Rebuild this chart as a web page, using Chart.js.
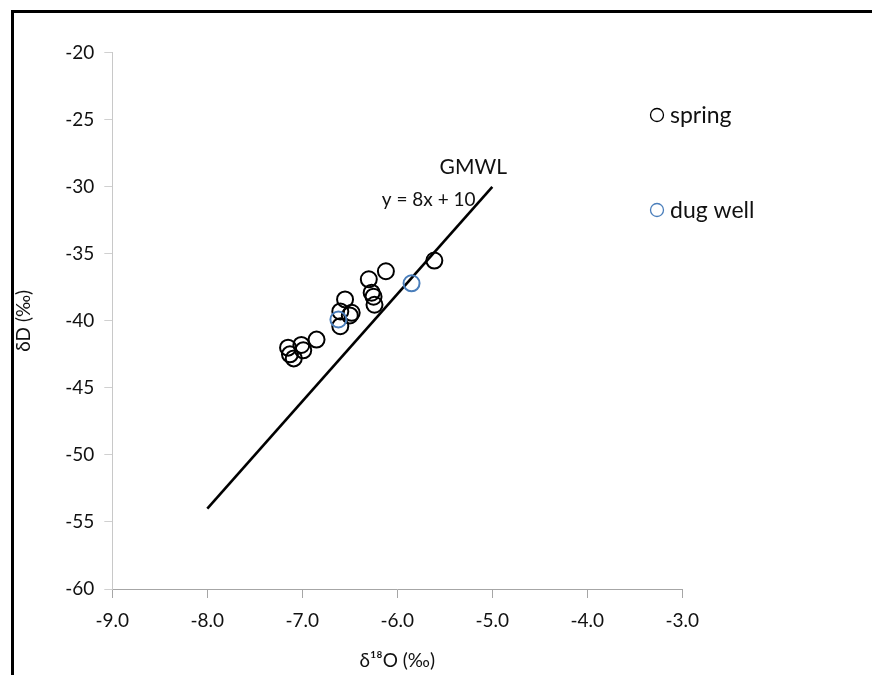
<!DOCTYPE html>
<html>
<head>
<meta charset="utf-8">
<script src="https://cdn.jsdelivr.net/npm/chart.js@4/dist/chart.umd.min.js"></script>
<style>
  html, body { margin: 0; padding: 0; background: #fff; }
  #wrap { position: relative; width: 872px; height: 675px; }
</style>
</head>
<body>
<div id="wrap"><canvas id="c" width="872" height="675"></canvas></div>
<script>
// ---- data ----
const springX = [-5.61, -6.12, -6.30, -6.27, -6.25, -6.24, -6.55, -6.48, -6.50, -6.60, -6.60, -6.85, -7.01, -6.99, -7.15, -7.13, -7.09];
const springY = [-35.5, -36.3, -36.9, -37.9, -38.2, -38.8, -38.4, -39.4, -39.6, -39.3, -40.4, -41.4, -41.8, -42.2, -42.0, -42.5, -42.8];
const dugX = [-5.85, -6.62];
const dugY = [-37.2, -39.9];
const gmwlX = [-8, -5];
const gmwlY = [-54, -30];
const xTicks = [-9, -8, -7, -6, -5, -4, -3];
const yTicks = [-60, -55, -50, -45, -40, -35, -30, -25, -20];
const seriesNames = ['spring', 'dug well'];
const lineName = 'GMWL';
const lineEquation = 'y = 8x + 10';

const toPts = (xs, ys) => xs.map((x, i) => ({ x: x, y: ys[i] }));

const FONT = 'Lato, "Open Sans", sans-serif';
const BLUE = '#4a7ebb';

const framePlugin = {
  id: 'frame',
  beforeDraw(chart) {
    const ctx = chart.ctx;
    ctx.save();
    ctx.fillStyle = '#fff';
    ctx.fillRect(0, 0, chart.width, chart.height);
    ctx.fillStyle = '#000';
    ctx.fillRect(11, 10, chart.width, 3);
    ctx.fillRect(11, 10, 3, chart.height);
    ctx.restore();
  }
};

const notesPlugin = {
  id: 'notes',
  afterDraw(chart) {
    const ctx = chart.ctx;
    const xs = chart.scales.x, ys = chart.scales.y;
    ctx.save();
    ctx.fillStyle = '#111';
    ctx.textAlign = 'center';
    ctx.textBaseline = 'middle';
    ctx.font = '21px ' + FONT;
    ctx.fillText(lineName, xs.getPixelForValue(-5.20), ys.getPixelForValue(-28.55));
    ctx.font = '19px ' + FONT;
    ctx.fillText(lineEquation, xs.getPixelForValue(-5.67), ys.getPixelForValue(-31.0));
    // legend
    const items = [
      { label: seriesNames[0], color: '#000', y: 115 },
      { label: seriesNames[1], color: BLUE, y: 210 }
    ];
    ctx.textAlign = 'left';
    ctx.font = '23px ' + FONT;
    items.forEach(it => {
      ctx.beginPath();
      ctx.arc(657, it.y, 6.5, 0, Math.PI * 2);
      ctx.lineWidth = 1.3;
      ctx.strokeStyle = it.color;
      ctx.stroke();
      ctx.fillStyle = '#111';
      ctx.fillText(it.label, 670, it.y + 1);
    });
    ctx.restore();
  }
};

new Chart(document.getElementById('c'), {
  type: 'scatter',
  data: {
    datasets: [
      {
        label: lineName,
        data: toPts(gmwlX, gmwlY),
        showLine: true,
        borderColor: '#000',
        borderWidth: 2.6,
        pointRadius: 0,
        fill: false,
        order: 3
      },
      {
        label: seriesNames[0],
        data: toPts(springX, springY),
        pointRadius: 8,
        pointBorderWidth: 2,
        pointBorderColor: '#000',
        pointBackgroundColor: 'rgba(0,0,0,0)',
        order: 2
      },
      {
        label: seriesNames[1],
        data: toPts(dugX, dugY),
        pointRadius: 8,
        pointBorderWidth: 2,
        pointBorderColor: BLUE,
        pointBackgroundColor: 'rgba(0,0,0,0)',
        order: 1
      }
    ]
  },
  options: {
    responsive: false,
    animation: false,
    devicePixelRatio: 1,
    layout: { padding: { left: 10, top: 52.7, right: 189.7, bottom: 0 } },
    plugins: { legend: { display: false }, tooltip: { enabled: false } },
    scales: {
      x: {
        type: 'linear',
        min: -9, max: -3,
        afterFit(s) { s.height = 86; },
        afterBuildTicks(s) { s.ticks = xTicks.map(v => ({ value: v })); },
        grid: { drawOnChartArea: false, drawTicks: true, tickLength: 9, color: '#a6a6a6', lineWidth: 1 },
        border: { display: true, color: '#a6a6a6', width: 1 },
        ticks: { color: '#111', font: { family: FONT, size: 19 }, padding: 11, maxRotation: 0,
                 callback: v => Number(v).toFixed(1) },
        title: { display: true, text: 'δ¹⁸O (‰)', color: '#111', font: { family: FONT, size: 19 }, padding: { top: 0, bottom: 3 } }
      },
      y: {
        type: 'linear',
        min: -60, max: -20,
        afterFit(s) { s.width = 102.3; },
        afterBuildTicks(s) { s.ticks = yTicks.map(v => ({ value: v })); },
        grid: { drawOnChartArea: false, drawTicks: true, tickLength: 8, color: '#d0d0d0', lineWidth: 1 },
        border: { display: true, color: '#c8c8c8', width: 1 },
        ticks: { color: '#111', font: { family: FONT, size: 19 }, padding: 10 },
        title: { display: true, text: 'δD (‰)', color: '#111', font: { family: FONT, size: 19 }, padding: { top: 2, bottom: 0 } }
      }
    }
  },
  plugins: [framePlugin, notesPlugin]
});
</script>
</body>
</html>
